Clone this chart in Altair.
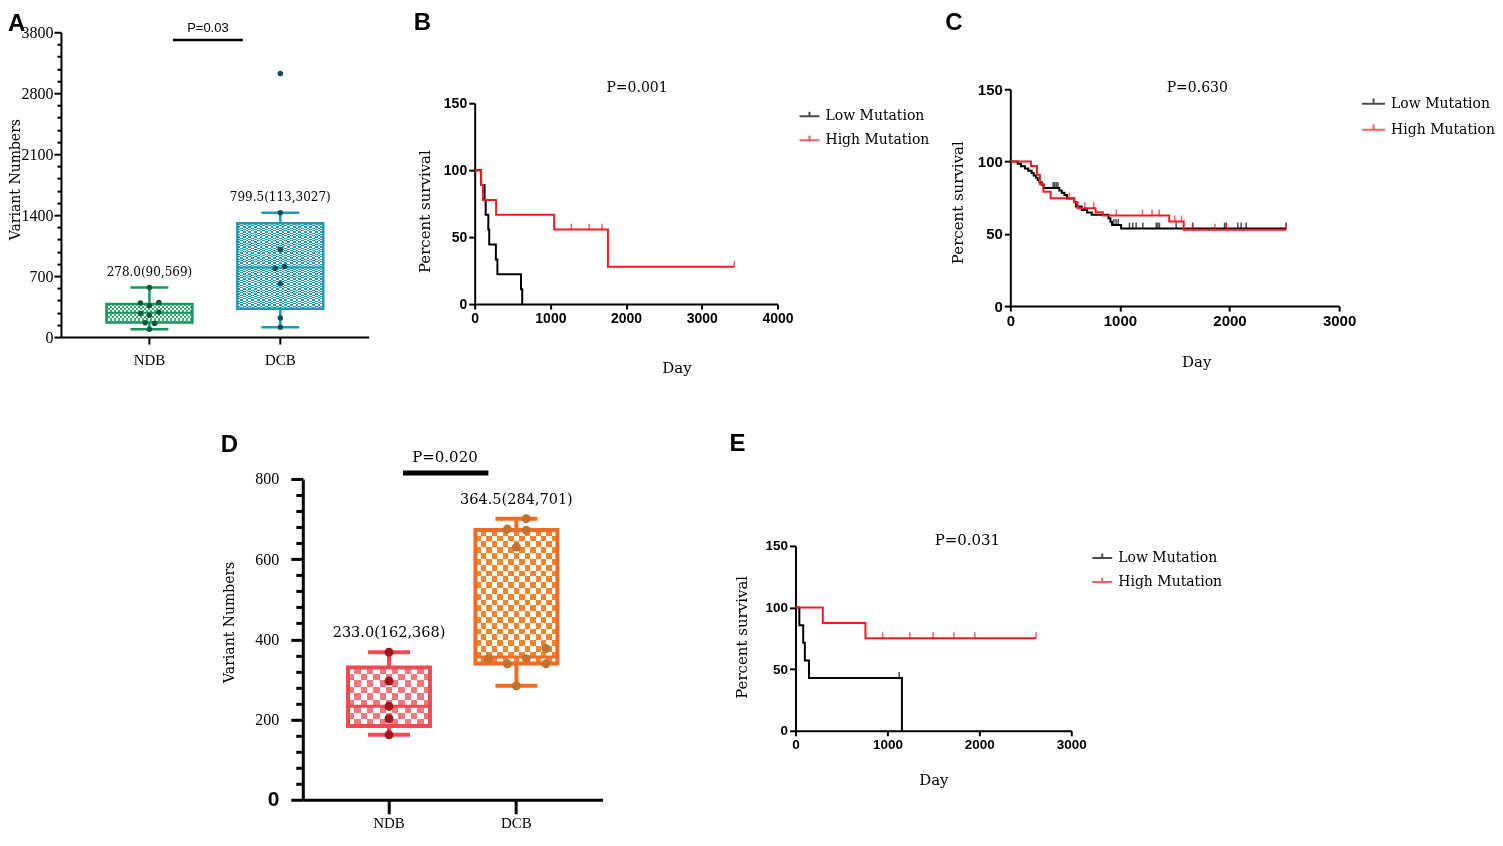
import altair as alt
import pandas as pd

# ---------------- data ----------------
box_groups = ["NDB", "DCB"]

# Panel A
a_q1 = [166, 325]
a_median = [278, 799.5]
a_q3 = [379, 1308]
a_lo = [90, 113]
a_hi = [569, 1427]
a_stats = ["278.0(90,569)", "799.5(113,3027)"]
a_ndb_values = [90, 155, 165, 250, 272, 284, 362, 390, 398, 569]
a_ndb_jitter = [0, 0.12, -0.1, 0, -0.21, 0.22, 0, -0.21, 0.22, 0]
a_dcb_values = [113, 218, 612, 788, 811, 1006, 1427, 3027]
a_dcb_jitter = [0, 0, 0, -0.12, 0.1, 0, 0, 0]
a_y_ticks = list(range(0, 3501, 140))
a_p_label = "P=0.03"
a_p_bar_y = 3410
a_p_text_y = 3547

# Panel D
d_q1 = [184, 340]
d_median = [233, 356]
d_q3 = [330, 673]
d_lo = [162, 284]
d_hi = [368, 701]
d_stats = ["233.0(162,368)", "364.5(284,701)"]
d_ndb_values = [162, 202, 233, 296, 368]
d_ndb_jitter = [0, 0, 0, 0, 0]
d_dcb_values = [284, 339, 339, 352, 352, 377, 630, 672, 675, 701]
d_dcb_jitter = [0, -0.22, 0.72, -0.68, 0.24, 0.72, 0, 0.24, -0.22, 0.24]
d_y_ticks = list(range(0, 801, 40))
d_p_label = "P=0.020"
d_p_bar_y = 815
d_p_text_y = 855

# Kaplan-Meier panels
km_groups = ["Low Mutation", "High Mutation"]
km_colors = ["#000000", "#f01c24"]

b_low_day = [0, 85, 130, 145, 180, 192, 280, 300, 612, 628]
b_low_surv = [100, 88.9, 77.8, 66.7, 55.6, 44.4, 33.3, 22.2, 11.1, 0]
b_high_day = [0, 84, 110, 283, 1050, 1760, 3430]
b_high_surv = [100, 88.9, 77.8, 66.7, 55.6, 27.8, 27.8]
b_low_cens_day = []
b_low_cens_surv = []
b_high_cens_day = [1278, 1511, 1682, 3430]
b_high_cens_surv = [55.6, 55.6, 55.6, 27.8]
b_p = ("P=0.001", 2144, 161)

c_low_day = [0, 67, 97, 134, 164, 195, 213, 234, 250, 265, 286, 304, 447, 469, 493,
             517, 584, 600, 651, 700, 743, 895, 913, 928, 1011, 2517]
c_low_surv = [100, 98.4, 96.8, 95.2, 93.6, 92.0, 90.4, 88.8, 87.2, 85.6, 84.0, 81.6, 80.0,
              78.4, 76.8, 74.4, 72.0, 68.8, 66.4, 64.8, 63.2, 60.8, 58.4, 56.0, 53.6, 53.6]
c_low_cens_day = [390, 405, 420, 435, 945, 965, 985, 1087, 1117, 1148, 1209, 1331, 1346,
                  1361, 1513, 1665, 1955, 1970, 2076, 2106, 2152, 2517]
c_low_cens_surv = [81.6, 81.6, 81.6, 81.6, 56.0, 56.0, 56.0, 53.6, 53.6, 53.6, 53.6, 53.6,
                   53.6, 53.6, 53.6, 53.6, 53.6, 53.6, 53.6, 53.6, 53.6, 53.6]
c_high_day = [0, 188, 244, 270, 302, 368, 581, 613, 778, 844, 1450, 1582, 2516]
c_high_surv = [100, 96.9, 90.8, 84.4, 79.1, 74.5, 71.8, 67.7, 64.9, 62.6, 58.5, 52.8, 52.8]
c_high_cens_day = [536, 679, 762, 968, 1206, 1293, 1358, 1500, 1562, 1662, 1867, 1973, 2516]
c_high_cens_surv = [74.5, 67.7, 67.7, 62.6, 62.6, 62.6, 62.6, 58.5, 58.5, 52.8, 52.8, 52.8, 52.8]
c_p = ("P=0.630", 1706, 151)

e_low_day = [0, 42, 84, 102, 147, 1158]
e_low_surv = [100, 85.7, 71.4, 57.1, 42.9, 0]
e_low_cens_day = [1128]
e_low_cens_surv = [42.9]
e_high_day = [0, 297, 761, 2617]
e_high_surv = [100, 87.5, 75, 75]
e_high_cens_day = [948, 1244, 1498, 1723, 1951, 2617]
e_high_cens_surv = [75, 75, 75, 75, 75, 75]
e_p = ("P=0.031", 1870, 155)

SERIF_CN = "DejaVu Serif"


# ---------------- helpers ----------------
def stripes(n, along, on, off):
    stops = []
    for k in range(n):
        col = on if k % 2 == 0 else off
        stops.append({"offset": round(k / n, 5), "color": col})
        stops.append({"offset": round((k + 1) / n, 5), "color": col})
    return {"gradient": "linear", "x1": 0, "y1": 0,
            "x2": 1 if along == "x" else 0, "y2": 1 if along == "y" else 0,
            "stops": stops}


def box_panel(q1, med, q3, lo, hi, stats, pts, jits, styles, cfg):
    xscale = alt.Scale(domain=box_groups, range=[cfg["x0"], cfg["x0"] + cfg["xr"]],
                       paddingInner=cfg["pi"], paddingOuter=cfg["po"])
    xaxis = alt.Axis(title="", domainWidth=cfg["dw"], domainColor="black", tickColor="black",
                     tickWidth=cfg["dw"], tickSize=cfg["xtick"], labelFont="Liberation Serif",
                     labelFontSize=15, labelColor="black", labelPadding=cfg["xlp"],
                     labelAngle=0, grid=False)
    yscale = alt.Scale(domain=cfg["ydom"], nice=False, zero=True)
    yaxis = alt.Axis(values=cfg["yticks"], labelExpr=cfg["ylabexpr"], labelOverlap=False,
                     offset=cfg["yoff"],
                     tickSize=cfg["ytick"], tickWidth=cfg["dw"], domainWidth=cfg["dw"],
                     domainColor="black", tickColor="black",
                     labelFont=cfg["ylabfont"], labelFontSize=cfg["ylabsize"],
                     labelFontWeight=cfg["ylabweight"], labelColor="black",
                     labelPadding=cfg["ylp"], grid=False,
                     title="Variant Numbers", titleFont=SERIF_CN, titleFontSize=14,
                     titleFontWeight="normal", titleColor="black", titleAngle=270,
                     titleAlign="center", titleBaseline="middle",
                     titleX=cfg["ttx"], titleY=cfg["tty"])

    def X(f):
        return alt.X(f"{f}:N", scale=xscale, axis=xaxis, sort=box_groups)

    def Y(f):
        return alt.Y(f"{f}:Q", scale=yscale, axis=yaxis)

    half_band = cfg["bw"] / 2.0
    layers = []
    for i, g in enumerate(box_groups):
        st = styles[i]
        df = pd.DataFrame({"group": [g], "q1": [q1[i]], "median": [med[i]], "q3": [q3[i]],
                           "lo": [lo[i]], "hi": [hi[i]], "label": [stats[i]]})
        base = alt.Chart(df)
        benc = dict(x=X("group"), y=Y("q1"), y2=alt.Y2("q3"))
        layers.append(base.mark_bar(fill=stripes(st["nc"], "x", "#000000", "#ffffff")).encode(**benc))
        layers.append(base.mark_bar(fill=stripes(st["nr"], "y", "#ffffff", "#000000"),
                                    blend="difference").encode(**benc))
        layers.append(base.mark_bar(fill=st["check"], blend="lighten").encode(**benc))
        layers.append(base.mark_bar(fillOpacity=0, stroke=st["stroke"],
                                    strokeWidth=st["sw"]).encode(**benc))
        layers.append(base.mark_tick(orient="horizontal", color=st["stroke"], size=cfg["bw"],
                                     thickness=st["medw"], opacity=1).encode(x=X("group"), y=Y("median")))
        layers.append(base.mark_rule(color=st["stroke"], strokeWidth=st["sw"]).encode(
            x=X("group"), y=Y("lo"), y2=alt.Y2("q1")))
        layers.append(base.mark_rule(color=st["stroke"], strokeWidth=st["sw"]).encode(
            x=X("group"), y=Y("q3"), y2=alt.Y2("hi")))
        layers.append(base.mark_tick(orient="horizontal", color=st["stroke"], size=st["capw"],
                                     thickness=st["sw"], opacity=1).encode(x=X("group"), y=Y("lo")))
        layers.append(base.mark_tick(orient="horizontal", color=st["stroke"], size=st["capw"],
                                     thickness=st["sw"], opacity=1).encode(x=X("group"), y=Y("hi")))
        pdf = pd.DataFrame({"group": [g] * len(pts[i]), "v": pts[i], "jit": jits[i]})
        for j in sorted(set(jits[i])):
            sub = pdf[pdf["jit"] == j]
            layers.append(alt.Chart(sub).mark_circle(color=st["pt"], size=st["ptsize"], opacity=1,
                                                     xOffset=round(j * half_band, 2)).encode(
                x=X("group"), y=Y("v")))
        layers.append(base.mark_text(font=SERIF_CN, fontSize=cfg["statfs"], color="black",
                                     baseline="middle", dy=cfg["statdy"]).encode(
            x=X("group"), y=Y("hi"), text="label:N"))

    pbar = pd.DataFrame({"x1": [box_groups[0]], "x2": [box_groups[1]], "y": [cfg["pbar_y"]],
                         "ty": [cfg["ptext_y"]], "label": [cfg["plabel"]]})
    layers.append(alt.Chart(pbar).mark_rule(color="black", strokeWidth=cfg["pbw"],
                                            xOffset=cfg["pbx1"], x2Offset=cfg["pbx2"]).encode(
        x=X("x1"), x2=alt.X2("x2"), y=Y("y")))
    layers.append(alt.Chart(pbar).mark_text(font=cfg["pfont"], fontSize=cfg["pfs"], color="black",
                                            baseline="middle", dx=cfg["ptdx"]).encode(
        x=X("x1"), y=Y("ty"), text="label:N"))
    return alt.layer(*layers)


def km_df(low_d, low_s, high_d, high_s):
    rows = []
    for g, ds, ss in ((km_groups[0], low_d, low_s), (km_groups[1], high_d, high_s)):
        for k, (d, s) in enumerate(zip(ds, ss)):
            rows.append({"grp": g, "day": d, "surv": s, "idx": k})
    return pd.DataFrame(rows)


def km_panel(lines, cens, ptxt, cfg):
    X = alt.X("day:Q", scale=alt.Scale(domain=[0, cfg["xmax"]],
                                        range=[cfg["x0"], cfg["x0"] + cfg["xr"]],
                                        nice=False, zero=False),
              axis=alt.Axis(values=cfg["xticks"], format="d", labelFlush=False, labelOverlap=False,
                            domainWidth=2, tickWidth=2, tickSize=5, domainColor="black",
                            tickColor="black", labelFont="Liberation Sans", labelFontWeight="bold",
                            labelFontSize=cfg["lfs"], labelColor="black", labelPadding=2, grid=False,
                            title="Day", titleFont=SERIF_CN, titleFontSize=15, titleFontWeight="normal",
                            titleColor="black", titleAlign="center", titleBaseline="middle",
                            titleX=cfg["dayx"], titleY=cfg["dayy"]))
    Y = alt.Y("surv:Q", scale=alt.Scale(domain=[0, 150], range=[cfg["h"], cfg["top"]], nice=False),
              axis=alt.Axis(values=[0, 50, 100, 150], offset=cfg["yoff"], domainWidth=2,
                            tickWidth=2, tickSize=6,
                            domainColor="black", tickColor="black", labelFont="Liberation Sans",
                            labelFontWeight="bold", labelFontSize=cfg["lfs"], labelColor="black",
                            labelPadding=2, grid=False,
                            title="Percent survival", titleFont=SERIF_CN, titleFontSize=15,
                            titleFontWeight="normal", titleColor="black", titleAngle=270,
                            titleAlign="center", titleBaseline="middle",
                            titleX=cfg["psx"], titleY=cfg["psy"]))
    legend = alt.Legend(title="", orient="none", legendX=cfg["lgx"], legendY=cfg["lgy"],
                        symbolType="M-1,0H1M0,0V-0.45", symbolSize=cfg["symsize"],
                        symbolStrokeWidth=2, labelFont=SERIF_CN, labelFontSize=cfg["lgfs"],
                        labelColor="black", labelOffset=5, rowPadding=6, padding=0)
    C = alt.Color("grp:N", scale=alt.Scale(domain=km_groups, range=km_colors), legend=legend)
    line = alt.Chart(lines).mark_line(interpolate="step-after", strokeWidth=2).encode(
        x=X, y=Y, color=C, order="idx:Q")
    ticks = alt.Chart(cens).mark_tick(orient="vertical", size=6, thickness=1.5, yOffset=-3).encode(
        x=X, y=Y, color=C)
    ptext = alt.Chart(ptxt).mark_text(font=SERIF_CN, fontSize=cfg["pfs"], color="black",
                                      baseline="middle").encode(x=X, y=Y, text="label:N")
    return alt.layer(line, ticks, ptext)


def letter(txt, dx, dy):
    return alt.TitleParams(text=txt, anchor="start", frame="group", orient="top", offset=0,
                           dx=dx, dy=dy, fontSize=24, font="Liberation Sans",
                           fontWeight="bold", color="black", baseline="alphabetic")


# ---------------- panel A ----------------
a_styles = [
    dict(check="#35ad70", stroke="#17985a", sw=2.5, nc=43, nr=9, capw=38, medw=2,
         pt="#0c5a35", ptsize=30),
    dict(check="#1b9bb6", stroke="#1e9ab5", sw=2.5, nc=31, nr=102, capw=38, medw=2,
         pt="#0e4c62", ptsize=30),
]
a_cfg = dict(x0=0, xr=308, pi=0.3435, po=0.3477, bw=86, dw=2, xtick=7, xlp=8, ydom=[0, 3500],
             yticks=a_y_ticks, yoff=0,
             ylabexpr="datum.value == 3500 ? '3800' : (datum.value % 700 == 0 ? '' + datum.value : '')",
             ytick={"condition": {"test": "datum.value % 700 == 0", "value": 7}, "value": 4},
             ylabfont="Liberation Serif", ylabsize=16, ylabweight="normal", ylp=1,
             ttx=-45, tty=147, statfs=12, statdy=-16,
             pbar_y=a_p_bar_y, ptext_y=a_p_text_y, plabel=a_p_label, pbw=2.5, pbx1=23.5, pbx2=-37.5,
             pfont="Liberation Sans", pfs=13, ptdx=58.5)
panelA = box_panel(a_q1, a_median, a_q3, a_lo, a_hi, a_stats,
                   [a_ndb_values, a_dcb_values], [a_ndb_jitter, a_dcb_jitter], a_styles, a_cfg
                   ).properties(width=414, height=305, title=letter("A", -53, 32.8))

# ---------------- panel D ----------------
d_styles = [
    dict(check="#f3777d", stroke="#ec4b53", sw=4, nc=13, nr=9, capw=42, medw=3,
         pt="#a3161d", ptsize=80),
    dict(check="#f7842c", stroke="#f26b23", sw=4, nc=15, nr=23, capw=42, medw=3,
         pt="#c4702e", ptsize=80),
]
d_cfg = dict(x0=-172, xr=300, pi=0.357, po=0.355, bw=82, dw=3, xtick=14, xlp=2, ydom=[0, 800],
             yticks=d_y_ticks, yoff=172,
             ylabexpr="datum.value % 200 == 0 ? '' + datum.value : ''",
             ytick={"condition": {"test": "datum.value % 200 == 0", "value": 12}, "value": 7},
             ylabfont={"condition": {"test": "datum.value == 0", "value": "Liberation Sans"},
                       "value": "Liberation Serif"},
             ylabsize={"condition": {"test": "datum.value == 0", "value": 21}, "value": 16},
             ylabweight={"condition": {"test": "datum.value == 0", "value": "bold"}, "value": "normal"},
             ylp=12, ttx=-73, tty=143, statfs=14.5, statdy=-19,
             pbar_y=d_p_bar_y, ptext_y=d_p_text_y, plabel=d_p_label, pbw=5, pbx1=14, pbx2=-28,
             pfont=SERIF_CN, pfs=15, ptdx=56)
panelD = box_panel(d_q1, d_median, d_q3, d_lo, d_hi, d_stats,
                   [d_ndb_values, d_dcb_values], [d_ndb_jitter, d_dcb_jitter], d_styles, d_cfg
                   ).properties(width=128, height=321, title=letter("D", -254, 26.2))

# ---------------- KM panels ----------------
def ptxt_df(p):
    return pd.DataFrame({"label": [p[0]], "day": [p[1]], "surv": [p[2]]})


panelB = km_panel(km_df(b_low_day, b_low_surv, b_high_day, b_high_surv),
                  km_df(b_low_cens_day, b_low_cens_surv, b_high_cens_day, b_high_cens_surv),
                  ptxt_df(b_p),
                  dict(x0=0, xmax=4000, xr=303, xticks=[0, 1000, 2000, 3000, 4000], h=272, top=71,
                       yoff=0, lfs=14, dayx=202, dayy=63, psx=-50, psy=179, lgx=324, lgy=73,
                       symsize=400, lgfs=14, pfs=14)
                  ).properties(width=536, height=272, title=letter("B", -61, 21.8))

panelC = km_panel(km_df(c_low_day, c_low_surv, c_high_day, c_high_surv),
                  km_df(c_low_cens_day, c_low_cens_surv, c_high_cens_day, c_high_cens_surv),
                  ptxt_df(c_p),
                  dict(x0=0, xmax=3000, xr=329, xticks=[0, 1000, 2000, 3000], h=274, top=57,
                       yoff=0, lfs=15, dayx=186, dayy=55, psx=-53, psy=170, lgx=351, lgy=59,
                       symsize=529, lgfs=14, pfs=14)
                  ).properties(width=329, height=274, title=letter("C", -65, 21.8))

panelE = km_panel(km_df(e_low_day, e_low_surv, e_high_day, e_high_surv),
                  km_df(e_low_cens_day, e_low_cens_surv, e_high_cens_day, e_high_cens_surv),
                  ptxt_df(e_p),
                  dict(x0=-215, xmax=3000, xr=276, xticks=[0, 1000, 2000, 3000], h=252, top=67,
                       yoff=215, lfs=13.5, dayx=-77, dayy=49, psx=-54, psy=158, lgx=81, lgy=68,
                       symsize=400, lgfs=14, pfs=15)
                  ).properties(width=61, height=252, title=letter("E", -281, -3.8))

spacer = alt.Chart(pd.DataFrame({"v": [0]})).mark_point(opacity=0).encode(
    x=alt.value(0), y=alt.value(0)).properties(width=1, height=1)

chart = alt.concat(panelA, panelB, panelC, spacer, panelD, panelE, columns=3,
                   spacing={"row": 142, "column": 0}, bounds="flush"
                   ).resolve_scale(color="independent"
                   ).resolve_legend(color="independent"
                   ).properties(padding={"top": 2, "left": 0, "right": 0, "bottom": 0}
                   ).configure(font=SERIF_CN, background="white"
                   ).configure_view(stroke="transparent", strokeWidth=0)

chart.save("out.html", embed_options={"renderer": "svg", "actions": False})
